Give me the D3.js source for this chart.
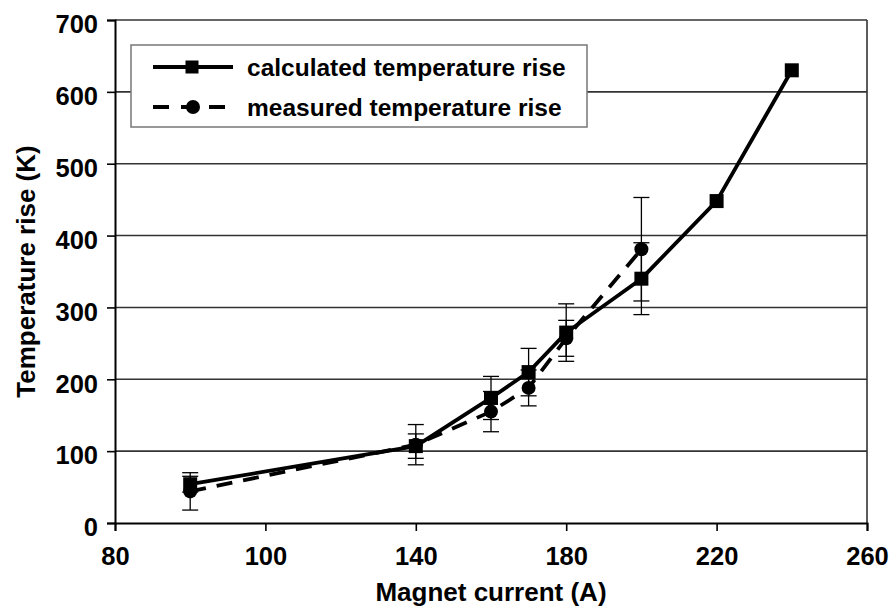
<!DOCTYPE html>
<html><head><meta charset="utf-8">
<script src="https://cdn.jsdelivr.net/npm/d3@7"></script>
<style>body{margin:0;background:#fff}svg{display:block}text{font-family:"Liberation Sans",Arial,sans-serif;font-weight:bold;fill:#000}</style>
</head><body><svg id="c" width="896" height="609"></svg>
<script>
// Data
const calcCurrent = [80, 140, 160, 170, 180, 200, 220, 240];
const calcRise    = [54, 107, 174, 210, 265, 340, 448, 630];
const calcErr     = [11, 17, 30, 33, 40, 50, null, null];
const measCurrent = [80, 140, 160, 170, 180, 200];
const measRise    = [44, 109, 155, 188, 257, 381];
const measErr     = [26, 28, 28, 25, 25, 72];
const xTickValues = [60, 100, 140, 180, 220, 260];
const xTickLabels = ["80", "100", "140", "180", "220", "260"];
const yTickValues = [0, 100, 200, 300, 400, 500, 600, 700];
const seriesNames = ["calculated temperature rise", "measured temperature rise"];

const svg = d3.select("#c");
const L = 115, R = 867, T = 20, B = 523;
const x = d3.scaleLinear().domain([60, 260]).range([L, R]);
const y = d3.scaleLinear().domain([0, 700]).range([B, T]);

// gridlines
svg.append("g").selectAll("line").data(yTickValues.filter(v => v > 0)).join("line")
  .attr("x1", L).attr("x2", R).attr("y1", d => y(d)).attr("y2", d => y(d))
  .attr("stroke", "#333").attr("stroke-width", 1.6);
// right border
svg.append("line").attr("x1", R).attr("x2", R).attr("y1", T).attr("y2", B)
  .attr("stroke", "#333").attr("stroke-width", 1.6);

// axes
const xAxis = d3.axisBottom(x).tickValues(xTickValues)
  .tickFormat((d, i) => xTickLabels[i]).tickSizeOuter(0).tickSize(8).tickPadding(16);
const gx = svg.append("g").attr("transform", `translate(0,${B})`).call(xAxis);
gx.select(".domain").attr("stroke", "#000").attr("stroke-width", 2);
gx.selectAll(".tick line").attr("stroke", "#000").attr("stroke-width", 1.6);
gx.selectAll(".tick text").attr("font-size", 25.5).attr("font-family", "Liberation Sans, Arial, sans-serif").attr("font-weight", "bold").attr("fill", "#000");

const yAxis = d3.axisLeft(y).tickValues(yTickValues).tickSizeOuter(0).tickSize(8).tickPadding(9);
const gy = svg.append("g").attr("transform", `translate(${L},0)`).call(yAxis);
gy.select(".domain").attr("stroke", "#000").attr("stroke-width", 2);
gy.selectAll(".tick line").attr("stroke", "#000").attr("stroke-width", 1.6);
gy.selectAll(".tick text").attr("font-size", 25.5).attr("font-family", "Liberation Sans, Arial, sans-serif").attr("font-weight", "bold").attr("fill", "#000").attr("dy", "0.5em");

// axis titles
svg.append("text").attr("x", (L + R) / 2).attr("y", 601).attr("text-anchor", "middle")
  .attr("font-size", 26).text("Magnet current (A)");
svg.append("text").attr("transform", `translate(35,${(T + B) / 2}) rotate(-90)`)
  .attr("text-anchor", "middle").attr("font-size", 26).text("Temperature rise (K)");

// error bars
function errorBars(xs, ys, es) {
  const g = svg.append("g").attr("stroke", "#000").attr("stroke-width", 1.3);
  xs.forEach((c, i) => {
    if (es[i] == null) return;
    const cx = x(c), y1 = y(ys[i] + es[i]), y2 = y(ys[i] - es[i]);
    g.append("line").attr("x1", cx).attr("x2", cx).attr("y1", y1).attr("y2", y2);
    g.append("line").attr("x1", cx - 8).attr("x2", cx + 8).attr("y1", y1).attr("y2", y1);
    g.append("line").attr("x1", cx - 8).attr("x2", cx + 8).attr("y1", y2).attr("y2", y2);
  });
}
errorBars(calcCurrent, calcRise, calcErr);
errorBars(measCurrent, measRise, measErr);

const line = d3.line().x(d => x(d[0])).y(d => y(d[1]));
const calcPts = calcCurrent.map((c, i) => [c, calcRise[i]]);
const measPts = measCurrent.map((c, i) => [c, measRise[i]]);

svg.append("path").datum(measPts).attr("d", line).attr("fill", "none")
  .attr("stroke", "#000").attr("stroke-width", 3.8).attr("stroke-dasharray", "16,11");
svg.append("path").datum(calcPts).attr("d", line).attr("fill", "none")
  .attr("stroke", "#000").attr("stroke-width", 3.8);

svg.append("g").selectAll("circle").data(measPts).join("circle")
  .attr("cx", d => x(d[0])).attr("cy", d => y(d[1])).attr("r", 7).attr("fill", "#000");
svg.append("g").selectAll("rect").data(calcPts).join("rect")
  .attr("x", d => x(d[0]) - 7).attr("y", d => y(d[1]) - 7)
  .attr("width", 14).attr("height", 14).attr("fill", "#000");

// legend
const lg = svg.append("g");
lg.append("rect").attr("x", 131).attr("y", 45).attr("width", 456).attr("height", 82)
  .attr("fill", "#fff").attr("stroke", "#777").attr("stroke-width", 1.5);
const rows = [67, 107];
lg.append("line").attr("x1", 153).attr("x2", 233).attr("y1", rows[0]).attr("y2", rows[0])
  .attr("stroke", "#000").attr("stroke-width", 3.8);
lg.append("rect").attr("x", 192 - 6.5).attr("y", rows[0] - 6.5).attr("width", 13).attr("height", 13).attr("fill", "#000");
lg.append("line").attr("x1", 153).attr("x2", 233).attr("y1", rows[1]).attr("y2", rows[1])
  .attr("stroke", "#000").attr("stroke-width", 3.8).attr("stroke-dasharray", "16,12");
lg.append("circle").attr("cx", 193).attr("cy", rows[1]).attr("r", 7).attr("fill", "#000");
seriesNames.forEach((n, i) => {
  lg.append("text").attr("x", 247).attr("y", rows[i]).attr("dy", "0.36em")
    .attr("font-size", 24.5).text(n);
});
</script></body></html>
